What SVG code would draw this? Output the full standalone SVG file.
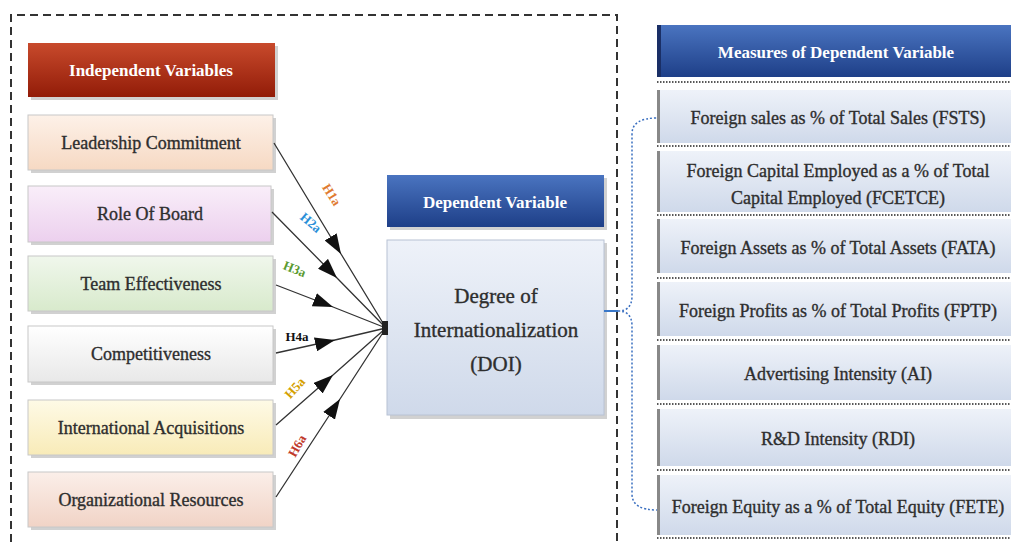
<svg xmlns="http://www.w3.org/2000/svg" width="1011" height="542" viewBox="0 0 1011 542">
<defs>
<style>
.t{font-family:"Liberation Serif","Times New Roman",serif;text-anchor:middle;fill:#2e2e2e;stroke:#2e2e2e;stroke-width:0.35}
.lbl{font-size:18px}
.hd{font-size:17px;font-weight:bold;fill:#fff;stroke:none}
.rl{font-size:18px}
.h{font-family:"Liberation Serif",serif;font-size:13px;font-weight:bold;text-anchor:middle}
.box{stroke:#c8c8c8;stroke-width:1}
.sh{fill:#9a9a9a;opacity:0.45}
.conn{stroke:#333;stroke-width:1.3;fill:none}
.sep{stroke:#222;stroke-width:1.5;stroke-dasharray:1.5 1.5}
</style>
<linearGradient id="gRed" x1="0" y1="0" x2="0" y2="1"><stop offset="0" stop-color="#c84a2c"/><stop offset="1" stop-color="#921c08"/></linearGradient>
<linearGradient id="gBlue" x1="0" y1="0" x2="0" y2="1"><stop offset="0" stop-color="#4a74c0"/><stop offset="1" stop-color="#1e3f88"/></linearGradient>
<linearGradient id="gPeach" x1="0" y1="0" x2="0" y2="1"><stop offset="0" stop-color="#fdf1e8"/><stop offset="1" stop-color="#f6d9c3"/></linearGradient>
<linearGradient id="gPink" x1="0" y1="0" x2="0" y2="1"><stop offset="0" stop-color="#f9eef9"/><stop offset="1" stop-color="#ecd0ee"/></linearGradient>
<linearGradient id="gGreen" x1="0" y1="0" x2="0" y2="1"><stop offset="0" stop-color="#f0f7ec"/><stop offset="1" stop-color="#d8eacc"/></linearGradient>
<linearGradient id="gGray" x1="0" y1="0" x2="0" y2="1"><stop offset="0" stop-color="#ffffff"/><stop offset="1" stop-color="#e8e8e8"/></linearGradient>
<linearGradient id="gYel" x1="0" y1="0" x2="0" y2="1"><stop offset="0" stop-color="#fefae6"/><stop offset="1" stop-color="#f8ebb8"/></linearGradient>
<linearGradient id="gRose" x1="0" y1="0" x2="0" y2="1"><stop offset="0" stop-color="#fbefe9"/><stop offset="1" stop-color="#f1d3c6"/></linearGradient>
<linearGradient id="gLB" x1="0" y1="0" x2="0" y2="1"><stop offset="0" stop-color="#eef2f9"/><stop offset="1" stop-color="#cfd9ea"/></linearGradient>
<marker id="ah" viewBox="0 0 20 14" refX="20" refY="7" markerWidth="20" markerHeight="14" markerUnits="userSpaceOnUse" orient="auto"><path d="M0,0 L20,7 L0,14 z" fill="#111"/></marker>
</defs>
<rect width="1011" height="542" fill="#fff"/>

<!-- outer dashed border -->
<g id="frame" fill="none" stroke="#333" stroke-width="2" stroke-dasharray="8 5">
<path d="M11,542 V15 H617 V542"/>
</g>

<!-- left nodes -->
<g id="indep-header">
<rect class="sh" x="31" y="46" width="247" height="54"/>
<rect x="28" y="43" width="247" height="54" fill="url(#gRed)"/>
<text class="t hd" x="151" y="76">Independent Variables</text>
</g>
<g id="leadership">
<rect class="sh" x="31" y="118" width="245" height="55"/>
<rect class="box" x="28" y="115" width="245" height="55" fill="url(#gPeach)"/>
<text class="t lbl" x="151" y="149">Leadership Commitment</text>
</g>
<g id="board">
<rect class="sh" x="31" y="189" width="243" height="56"/>
<rect class="box" x="28" y="186" width="243" height="56" fill="url(#gPink)"/>
<text class="t lbl" x="150" y="220">Role Of Board</text>
</g>
<g id="team">
<rect class="sh" x="31" y="259" width="245" height="55"/>
<rect class="box" x="28" y="256" width="245" height="55" fill="url(#gGreen)"/>
<text class="t lbl" x="151" y="290">Team Effectiveness</text>
</g>
<g id="competitiveness">
<rect class="sh" x="31" y="329" width="245" height="56"/>
<rect class="box" x="28" y="326" width="245" height="56" fill="url(#gGray)"/>
<text class="t lbl" x="151" y="360">Competitiveness</text>
</g>
<g id="acquisitions">
<rect class="sh" x="31" y="403" width="245" height="55"/>
<rect class="box" x="28" y="400" width="245" height="55" fill="url(#gYel)"/>
<text class="t lbl" x="151" y="434">International Acquisitions</text>
</g>
<g id="resources">
<rect class="sh" x="31" y="475" width="245" height="55"/>
<rect class="box" x="28" y="472" width="245" height="55" fill="url(#gRose)"/>
<text class="t lbl" x="151" y="506">Organizational Resources</text>
</g>

<!-- center nodes -->
<g id="dep-header">
<rect class="sh" x="390" y="178" width="217" height="52"/>
<rect x="387" y="175" width="217" height="52" fill="url(#gBlue)"/>
<text class="t hd" x="495" y="208">Dependent Variable</text>
</g>
<g id="doi">
<rect class="sh" x="390" y="243" width="217" height="176"/>
<rect x="387" y="240" width="217" height="175" fill="url(#gLB)" stroke="#b8c2d4"/>
<text class="t" x="496" y="303" font-size="21">Degree of</text>
<text class="t" x="496" y="337" font-size="21">Internationalization</text>
<text class="t" x="496" y="371" font-size="21">(DOI)</text>
</g>

<!-- right nodes -->
<g id="measures-header">
<rect x="657" y="25" width="354" height="52" fill="url(#gBlue)"/>
<rect x="657" y="25" width="4" height="52" fill="#1a2f66"/>
<text class="t hd" x="836" y="58">Measures of Dependent Variable</text>
</g>
<g id="fsts">
<rect x="657" y="90" width="354" height="53" fill="url(#gLB)"/>
<rect x="657" y="90" width="3" height="53" fill="#888"/>
<text class="t rl" x="838" y="124">Foreign sales as % of Total Sales (FSTS)</text>
</g>
<g id="fcetce">
<rect x="657" y="151" width="354" height="61" fill="url(#gLB)"/>
<rect x="657" y="151" width="3" height="61" fill="#888"/>
<text class="t rl" x="838" y="177">Foreign Capital Employed as a % of Total</text>
<text class="t rl" x="838" y="204">Capital Employed (FCETCE)</text>
</g>
<g id="fata">
<rect x="657" y="219" width="354" height="54" fill="url(#gLB)"/>
<rect x="657" y="219" width="3" height="54" fill="#888"/>
<text class="t rl" x="838" y="254">Foreign Assets as % of Total Assets (FATA)</text>
</g>
<g id="fptp">
<rect x="657" y="282" width="354" height="54" fill="url(#gLB)"/>
<rect x="657" y="282" width="3" height="54" fill="#888"/>
<text class="t rl" x="838" y="317">Foreign Profits as % of Total Profits (FPTP)</text>
</g>
<g id="ai">
<rect x="657" y="345" width="354" height="55" fill="url(#gLB)"/>
<rect x="657" y="345" width="3" height="55" fill="#888"/>
<text class="t rl" x="838" y="380">Advertising Intensity (AI)</text>
</g>
<g id="rdi">
<rect x="657" y="409" width="354" height="57" fill="url(#gLB)"/>
<rect x="657" y="409" width="3" height="57" fill="#888"/>
<text class="t rl" x="838" y="445">R&amp;D Intensity (RDI)</text>
</g>
<g id="fete">
<rect x="657" y="475" width="354" height="60" fill="url(#gLB)"/>
<rect x="657" y="475" width="3" height="60" fill="#888"/>
<text class="t rl" x="838" y="513">Foreign Equity as a % of Total Equity (FETE)</text>
</g>
<g id="separators">
<path class="sep" d="M657,82 H1011 M657,146 H1011 M657,215 H1011 M657,278 H1011 M657,340 H1011 M657,404 H1011 M657,470 H1011 M657,538 H1011"/>
</g>

<!-- connectors -->
<g id="connectors">
<path class="conn" d="M274,143 L341,254 L386,328" marker-mid="url(#ah)"/>
<path class="conn" d="M272,212 L337,278 L386,328" marker-mid="url(#ah)"/>
<path class="conn" d="M276,285 L333,307 L386,328" marker-mid="url(#ah)"/>
<path class="conn" d="M276,353 L335,340 L386,328" marker-mid="url(#ah)"/>
<path class="conn" d="M276,425 L333,375 L386,328" marker-mid="url(#ah)"/>
<path class="conn" d="M276,497 L340,399 L386,328" marker-mid="url(#ah)"/>
<rect x="382" y="321" width="6" height="14" fill="#222"/>
<path d="M604,311 H618" stroke="#3a78c8" stroke-width="2" fill="none"/>
<path d="M618,311 Q632,311 632,296 V134 Q632,118 657,118 M618,311 Q632,311 632,326 V494 Q632,510 657,510" stroke="#3a6fc0" stroke-width="1.5" stroke-dasharray="2 2" fill="none"/>
</g>

<!-- hypothesis labels -->
<g id="labels">
<text class="h" fill="#e07a30" transform="translate(328,197) rotate(58)">H1a</text>
<text class="h" fill="#2a8fd8" transform="translate(308,226) rotate(40)">H2a</text>
<text class="h" fill="#5a9a30" transform="translate(293,273) rotate(22)">H3a</text>
<text class="h" fill="#111" font-weight="normal" transform="translate(297,341)">H4a</text>
<text class="h" fill="#d4a000" transform="translate(298,391) rotate(-48)">H5a</text>
<text class="h" fill="#c0392b" transform="translate(301,448) rotate(-60)">H6a</text>
</g>
</svg>
